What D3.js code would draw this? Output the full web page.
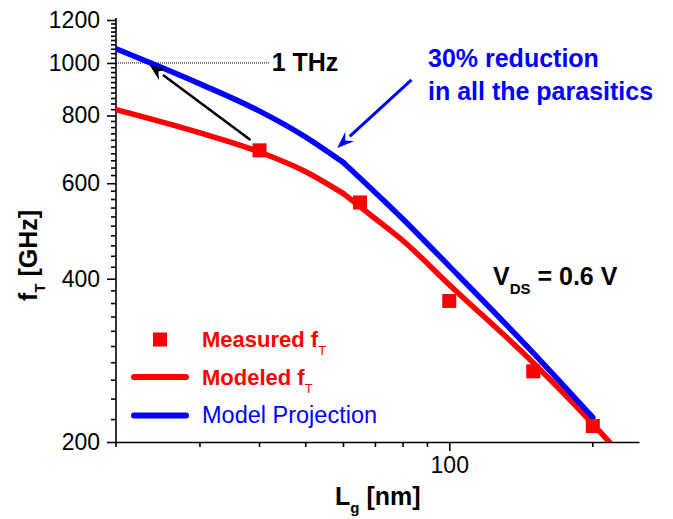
<!DOCTYPE html>
<html>
<head>
<meta charset="utf-8">
<script src="https://cdn.jsdelivr.net/npm/d3@7"></script>
<style>
  body { margin: 0; background: #fff; }
  svg { display: block; }
  text { font-family: "Liberation Sans", Arial, Helvetica, sans-serif; }
</style>
</head>
<body>
<svg id="chart" width="673" height="519"></svg>
<script>
// Gate length [nm] and cut-off frequency [GHz]
const measuredLg = [40, 65, 100, 150, 200];
const measuredFt = [690, 553, 364, 270, 214];

const modeledLg = [20, 30, 40, 50, 60, 70, 80, 100, 150, 200, 220];
const modeledFt = [820, 743, 685, 630, 574, 516, 470, 390, 280, 216, 197];

const projectionLg = [20, 30, 40, 50, 60, 80, 100, 150, 200];
const projectionFt = [1062, 915, 815, 730, 655, 515, 422, 292, 222];

// Gate length where the model curves change slope
const kinkLg = 60;

// Axis ticks
const xMajorTicks = [100];
const xMinorTicks = [20, 30, 40, 50, 60, 70, 80, 90, 200];
const yMajorTicks = [200, 400, 600, 800, 1000, 1200];
const yMinorTicks = [220, 240, 260, 280, 300, 320, 340, 360, 380,
                     420, 440, 460, 480, 500, 520, 540, 560, 580,
                     620, 640, 660, 680, 700, 720, 740, 760, 780,
                     820, 840, 860, 880, 900, 920, 940, 960, 980,
                     1020, 1040, 1060, 1080, 1100, 1120, 1140, 1160, 1180];

// Annotation anchors in data units [Lg, fT]
const thzLevel = 1000;
const thzLineEnd = 42;
const blackArrow = { from: [38.3, 721], to: [23.5, 992] };
const blueArrow = { from: [83.3, 931], to: [58.2, 697] };

const RED = "#ff0000", BLUE = "#0000ff";

const svg = d3.select("#chart");
const x = d3.scaleLog().domain([20, 250]).range([116, 639]);
const y = d3.scaleLog().domain([200, 1200]).range([442, 20]);
const X0 = 116, Y0 = 442;

svg.append("defs").append("clipPath").attr("id", "plot-clip")
  .append("rect").attr("x", 116).attr("y", 20).attr("width", 523).attr("height", 422);

// Major ticks and labels
function styleAxis(g) {
  g.selectAll("path, line").attr("stroke", "#000").attr("stroke-width", 1.6);
  g.selectAll("text").attr("fill", "#000").style("font-size", "23px");
}
const xMajor = svg.append("g").attr("transform", `translate(0,${Y0})`)
  .call(d3.axisBottom(x).tickValues(xMajorTicks).tickSize(9).tickSizeOuter(0).tickPadding(6).tickFormat(d3.format("d")));
styleAxis(xMajor);

const yMajor = svg.append("g").attr("transform", `translate(${X0},0)`)
  .call(d3.axisLeft(y).tickValues(yMajorTicks).tickSize(9).tickSizeOuter(0).tickPadding(7).tickFormat(d3.format("d")));
styleAxis(yMajor);
yMajor.select(".domain").attr("d", `M0,${Y0}V18`);

// Minor ticks
const minorLen = 5;
const minorG = svg.append("g").attr("class", "minor-ticks");
xMinorTicks.forEach(v => {
  minorG.append("line")
    .attr("x1", x(v)).attr("x2", x(v)).attr("y1", Y0).attr("y2", Y0 + minorLen)
    .attr("stroke", "#000").attr("stroke-width", 1.6);
});
yMinorTicks.forEach(v => {
  minorG.append("line")
    .attr("x1", X0 - minorLen).attr("x2", X0).attr("y1", y(v)).attr("y2", y(v))
    .attr("stroke", "#000").attr("stroke-width", 1.6);
});

// Axis titles
const xTitle = svg.append("text").attr("x", 335).attr("y", 505)
  .style("font-size", "25px").style("font-weight", "bold").attr("fill", "#000");
xTitle.append("tspan").text("L");
xTitle.append("tspan").attr("dy", 8).style("font-size", "15px").text("g");
xTitle.append("tspan").attr("dy", -8).text(" [nm]");

const yTitle = svg.append("text").attr("transform", "translate(37,301) rotate(-90)")
  .style("font-size", "25px").style("font-weight", "bold").attr("fill", "#000");
yTitle.append("tspan").text("f");
yTitle.append("tspan").attr("dy", 8).style("font-size", "15px").text("T");
yTitle.append("tspan").attr("dy", -8).text(" [GHz]");

// 1 THz reference
svg.append("line")
  .attr("x1", x(20)).attr("x2", x(thzLineEnd))
  .attr("y1", y(thzLevel)).attr("y2", y(thzLevel))
  .attr("stroke", "#000").attr("stroke-width", 1).attr("stroke-dasharray", "1,1");
svg.append("text").attr("x", x(thzLineEnd) + 2).attr("y", y(thzLevel) + 8)
  .style("font-size", "25px").style("font-weight", "bold").attr("fill", "#000").text("1 THz");

// Curves: smooth on each side of the kink
const line = d3.line().x(d => x(d[0])).y(d => y(d[1])).curve(d3.curveMonotoneX);
const plot = svg.append("g").attr("clip-path", "url(#plot-clip)");
function drawCurve(lg, ft, color) {
  const pts = d3.zip(lg, ft);
  const before = pts.filter(d => d[0] <= kinkLg);
  const after = pts.filter(d => d[0] >= kinkLg);
  [before, after].forEach(seg => {
    plot.append("path").datum(seg)
      .attr("d", line).attr("fill", "none").attr("stroke", color).attr("stroke-width", 5.5)
      .attr("stroke-linejoin", "round").attr("stroke-linecap", "round");
  });
}
drawCurve(modeledLg, modeledFt, RED);
drawCurve(projectionLg, projectionFt, BLUE);

// Measured points
const sq = 14;
svg.append("g").selectAll("rect").data(d3.zip(measuredLg, measuredFt)).join("rect")
  .attr("x", d => x(d[0]) - sq / 2).attr("y", d => y(d[1]) - sq / 2)
  .attr("width", sq).attr("height", sq).attr("fill", RED);

// Arrows
function arrow(a, color, width, headLen, headWidth) {
  const x1 = x(a.from[0]), y1 = y(a.from[1]), x2 = x(a.to[0]), y2 = y(a.to[1]);
  const ang = Math.atan2(y2 - y1, x2 - x1);
  const bx = x2 - headLen * Math.cos(ang), by = y2 - headLen * Math.sin(ang);
  svg.append("line").attr("x1", x1).attr("y1", y1).attr("x2", bx).attr("y2", by)
    .attr("stroke", color).attr("stroke-width", width);
  const px = Math.sin(ang) * headWidth / 2, py = -Math.cos(ang) * headWidth / 2;
  svg.append("path")
    .attr("d", `M${x2},${y2}L${bx + px},${by + py}L${bx + 0.35 * headLen * Math.cos(ang)},${by + 0.35 * headLen * Math.sin(ang)}L${bx - px},${by - py}Z`)
    .attr("fill", color);
}
arrow(blackArrow, "#000", 2.6, 17, 13);
arrow(blueArrow, BLUE, 3, 17, 13);

// Text annotations
const note = svg.append("text").style("font-size", "25px").style("font-weight", "bold").attr("fill", BLUE);
note.append("tspan").attr("x", 428).attr("y", 67).text("30% reduction");
note.append("tspan").attr("x", 428).attr("y", 100).text("in all the parasitics");

const vds = svg.append("text").attr("x", 493).attr("y", 285)
  .style("font-size", "25px").style("font-weight", "bold").attr("fill", "#000");
vds.append("tspan").text("V");
vds.append("tspan").attr("dy", 9).style("font-size", "15px").text("DS");
vds.append("tspan").attr("dy", -9).text(" = 0.6 V");

// Legend
const legend = svg.append("g");
legend.append("rect").attr("x", 160 - sq / 2).attr("y", 339.5 - sq / 2).attr("width", sq).attr("height", sq).attr("fill", RED);
legend.append("line").attr("x1", 134).attr("x2", 186).attr("y1", 377).attr("y2", 377)
  .attr("stroke", RED).attr("stroke-width", 6).attr("stroke-linecap", "round");
legend.append("line").attr("x1", 134).attr("x2", 186).attr("y1", 415.5).attr("y2", 415.5)
  .attr("stroke", BLUE).attr("stroke-width", 6).attr("stroke-linecap", "round");

const l1 = legend.append("text").attr("x", 202).attr("y", 347)
  .style("font-size", "22px").style("font-weight", "bold").attr("fill", RED);
l1.append("tspan").text("Measured f");
l1.append("tspan").attr("dy", 8).style("font-size", "13px").style("font-weight", "normal").text("T");
const l2 = legend.append("text").attr("x", 202).attr("y", 385)
  .style("font-size", "22px").style("font-weight", "bold").attr("fill", RED);
l2.append("tspan").text("Modeled f");
l2.append("tspan").attr("dy", 8).style("font-size", "13px").style("font-weight", "normal").text("T");
legend.append("text").attr("x", 202).attr("y", 423)
  .style("font-size", "23.5px").attr("fill", BLUE).text("Model Projection");
</script>
</body>
</html>
